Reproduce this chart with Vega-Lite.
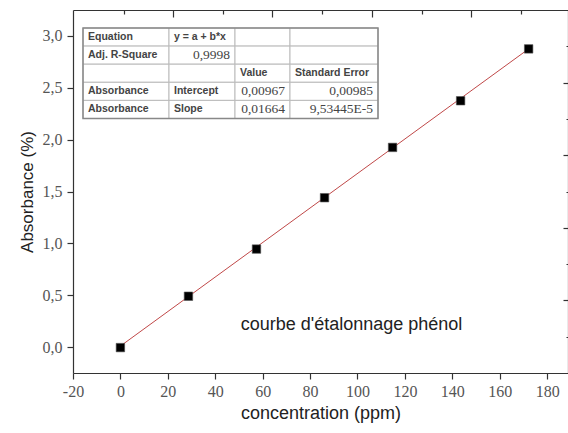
{
  "$schema": "https://vega.github.io/schema/vega-lite/v6.json",
  "width": 495,
  "height": 363,
  "autosize": {"type": "none"},
  "padding": {"left": 73, "top": 10, "right": 0, "bottom": 60},
  "background": "white",
  "config": {
    "view": {"stroke": null},
    "axis": {
      "grid": false,
      "domainColor": "#333",
      "domainWidth": 1.2,
      "tickColor": "#333",
      "tickWidth": 1.2,
      "labelFont": "Liberation Serif",
      "labelFontSize": 16,
      "labelColor": "#555",
      "titleFont": "Liberation Sans",
      "titleFontSize": 17,
      "titleFontWeight": "normal",
      "titleColor": "#222"
    }
  },
  "datasets": {
    "calib": [
      {"concentration": 0, "absorbance": -0.005},
      {"concentration": 28.7, "absorbance": 0.49},
      {"concentration": 57.4, "absorbance": 0.945},
      {"concentration": 86.1, "absorbance": 1.44},
      {"concentration": 114.8, "absorbance": 1.925},
      {"concentration": 143.5, "absorbance": 2.375},
      {"concentration": 172.2, "absorbance": 2.875}
    ],
    "fit": [
      {"concentration": 0, "absorbance": 0.0097},
      {"concentration": 172.2, "absorbance": 2.875}
    ],
    "table": [
      {"r": 0, "r1": 1, "c": 0, "c1": 1, "text": "Equation", "kind": "label"},
      {"r": 0, "r1": 1, "c": 1, "c1": 2, "text": "y = a + b*x", "kind": "label"},
      {"r": 0, "r1": 1, "c": 2, "c1": 3, "text": "", "kind": "empty"},
      {"r": 0, "r1": 1, "c": 3, "c1": 4, "text": "", "kind": "empty"},
      {"r": 1, "r1": 2, "c": 0, "c1": 1, "text": "Adj. R-Square", "kind": "label"},
      {"r": 1, "r1": 2, "c": 1, "c1": 2, "text": "0,9998", "kind": "number"},
      {"r": 1, "r1": 2, "c": 2, "c1": 3, "text": "", "kind": "empty"},
      {"r": 1, "r1": 2, "c": 3, "c1": 4, "text": "", "kind": "empty"},
      {"r": 2, "r1": 3, "c": 0, "c1": 1, "text": "", "kind": "empty"},
      {"r": 2, "r1": 3, "c": 1, "c1": 2, "text": "", "kind": "empty"},
      {"r": 2, "r1": 3, "c": 2, "c1": 3, "text": "Value", "kind": "label"},
      {"r": 2, "r1": 3, "c": 3, "c1": 4, "text": "Standard Error", "kind": "label"},
      {"r": 3, "r1": 4, "c": 0, "c1": 1, "text": "Absorbance", "kind": "label"},
      {"r": 3, "r1": 4, "c": 1, "c1": 2, "text": "Intercept", "kind": "label"},
      {"r": 3, "r1": 4, "c": 2, "c1": 3, "text": "0,00967", "kind": "number"},
      {"r": 3, "r1": 4, "c": 3, "c1": 4, "text": "0,00985", "kind": "number"},
      {"r": 4, "r1": 5, "c": 0, "c1": 1, "text": "Absorbance", "kind": "label"},
      {"r": 4, "r1": 5, "c": 1, "c1": 2, "text": "Slope", "kind": "label"},
      {"r": 4, "r1": 5, "c": 2, "c1": 3, "text": "0,01664", "kind": "number"},
      {"r": 4, "r1": 5, "c": 3, "c1": 4, "text": "9,53445E-5", "kind": "number"}
    ]
  },
  "layer": [
    {
      "layer": [
        {
          "data": {"name": "fit"},
          "mark": {"type": "line", "color": "#c04848", "strokeWidth": 1},
          "encoding": {
            "x": {
              "field": "concentration", "type": "quantitative",
              "scale": {"domain": [-20, 188.8], "nice": false, "zero": false},
              "axis": {
                "orient": "bottom",
                "values": [-20, -10, 0, 10, 20, 30, 40, 50, 60, 70, 80, 90, 100, 110, 120, 130, 140, 150, 160, 170, 180],
                "labelExpr": "datum.value % 20 === 0 ? '' + datum.value : ''",
                "tickSize": {"condition": {"test": "datum.value % 20 === 0", "value": 6}, "value": 3},
                "labelPadding": 4,
                "labelFlush": false,
                "labelOverlap": false,
                "title": "concentration (ppm)",
                "titleFontSize": 18,
                "titlePadding": 5
              }
            },
            "y": {
              "field": "absorbance", "type": "quantitative",
              "scale": {"domain": [-0.25, 3.25], "nice": false, "zero": false},
              "axis": {
                "orient": "left",
                "values": [0, 0.25, 0.5, 0.75, 1, 1.25, 1.5, 1.75, 2, 2.25, 2.5, 2.75, 3],
                "labelExpr": "round(datum.value * 4) % 2 === 0 ? replace(format(datum.value, '.1f'), '.', ',') : ''",
                "tickSize": {"condition": {"test": "round(datum.value * 4) % 2 === 0", "value": 6}, "value": 3},
                "labelPadding": 5,
                "labelOverlap": false,
                "title": "Absorbance (%)",
                "titlePadding": 6
              }
            }
          }
        },
        {
          "data": {"name": "calib"},
          "mark": {"type": "square", "size": 72, "color": "#000", "filled": true, "opacity": 1, "stroke": "#555", "strokeWidth": 0.6},
          "encoding": {
            "x": {"field": "concentration", "type": "quantitative"},
            "y": {"field": "absorbance", "type": "quantitative"}
          }
        },
        {
          "data": {"values": [{}]},
          "mark": {"type": "text", "font": "Liberation Sans", "fontSize": 18, "color": "#222", "align": "center", "baseline": "alphabetic"},
          "encoding": {
            "x": {"datum": 97.5, "type": "quantitative"},
            "y": {"datum": 0.165, "type": "quantitative"},
            "text": {"value": "courbe d'étalonnage phénol"}
          }
        }
      ]
    },
    {
      "data": {"name": "calib"},
      "mark": {"type": "point", "opacity": 0},
      "encoding": {
        "x": {
          "field": "concentration", "type": "quantitative",
          "scale": {"domain": [-20, 188.8], "nice": false, "zero": false},
          "axis": {
            "orient": "top",
            "values": [1.5, 22.3, 43.3, 64.1, 85.2, 106.1, 127.1, 148.0, 168.9],
            "labels": false,
            "title": null,
            "tickSize": {"condition": {"test": "datum.value === 22.3 || datum.value === 64.1 || datum.value === 106.1 || datum.value === 148", "value": -7}, "value": -4}
          }
        },
        "y": {
          "field": "absorbance", "type": "quantitative",
          "scale": {"domain": [-0.25, 3.25], "nice": false, "zero": false},
          "axis": {
            "orient": "right",
            "values": [0.1, 0.45, 0.8, 1.15, 1.5, 1.85, 2.2, 2.55, 2.9],
            "labels": false,
            "title": null,
            "tickSize": {"condition": {"test": "datum.value === 0.45 || datum.value === 1.15 || datum.value === 1.85 || datum.value === 2.55", "value": -5}, "value": -2}
          }
        }
      }
    },
    {
      "data": {"name": "table"},
      "layer": [
        {
          "mark": {"type": "rect", "fill": "white", "stroke": "#bbb", "strokeWidth": 1},
          "encoding": {
            "x": {"field": "c", "type": "quantitative", "scale": {"domain": [0, 1, 2, 3, 4], "range": [10, 96, 162, 217, 305], "nice": false, "zero": false}, "axis": null},
            "x2": {"field": "c1"},
            "y": {"field": "r", "type": "quantitative", "scale": {"domain": [0, 5], "range": [18, 108.5], "nice": false, "zero": false}, "axis": null},
            "y2": {"field": "r1"}
          }
        },
        {
          "data": {"values": [{}]},
          "mark": {"type": "rect", "fill": null, "stroke": "#888", "strokeWidth": 1.5},
          "encoding": {
            "x": {"datum": 0, "type": "quantitative"},
            "x2": {"datum": 4},
            "y": {"datum": 0, "type": "quantitative"},
            "y2": {"datum": 5}
          }
        },
        {
          "transform": [{"filter": "datum.kind === 'label'"}],
          "mark": {"type": "text", "font": "Liberation Sans", "fontWeight": "bold", "fontSize": 10.5, "color": "#444", "align": "left", "baseline": "middle", "dx": 5, "dy": 9},
          "encoding": {
            "x": {"field": "c", "type": "quantitative"},
            "y": {"field": "r", "type": "quantitative"},
            "text": {"field": "text"}
          }
        },
        {
          "transform": [{"filter": "datum.kind === 'number'"}],
          "mark": {"type": "text", "font": "Liberation Serif", "fontSize": 13.5, "color": "#444", "align": "right", "baseline": "middle", "dx": -5, "dy": 9},
          "encoding": {
            "x": {"field": "c1", "type": "quantitative"},
            "y": {"field": "r", "type": "quantitative"},
            "text": {"field": "text"}
          }
        }
      ]
    }
  ],
  "resolve": {
    "scale": {"x": "independent", "y": "independent"},
    "axis": {"x": "independent", "y": "independent"}
  }
}
